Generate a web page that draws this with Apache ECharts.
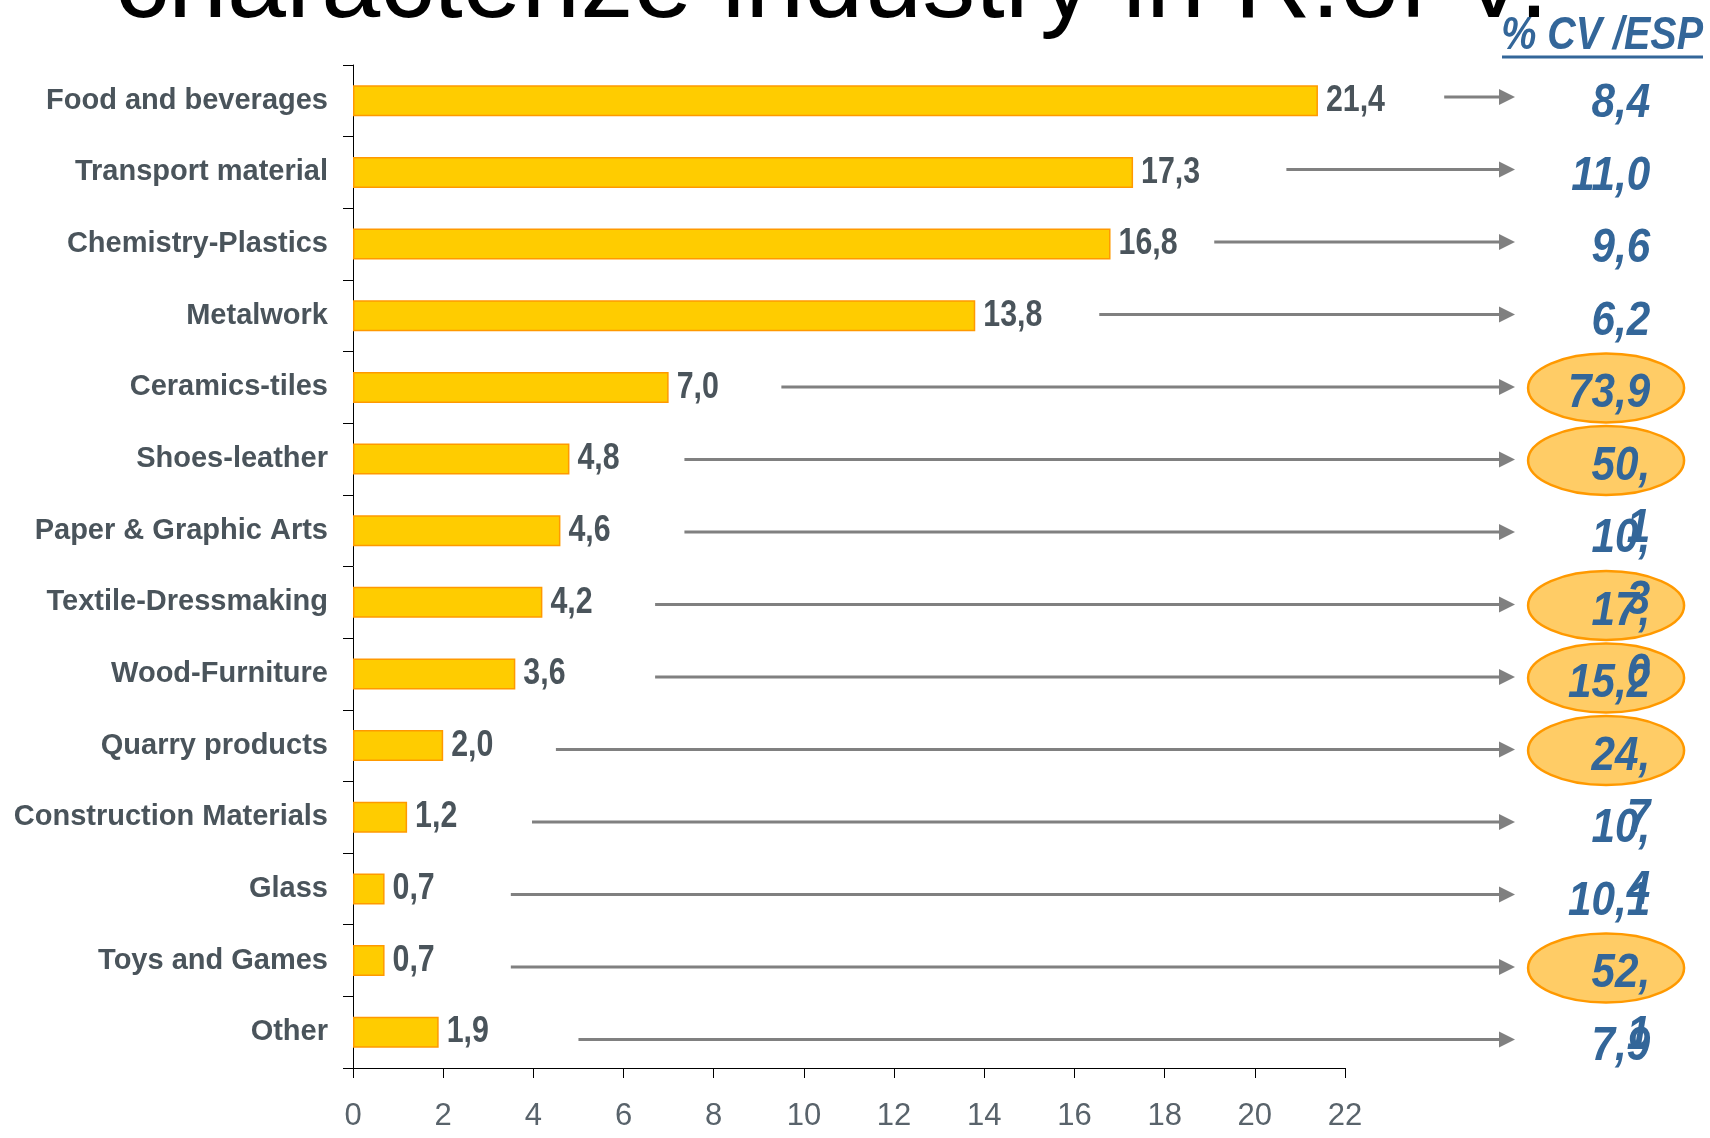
<!DOCTYPE html>
<html>
<head>
<meta charset="utf-8">
<script src="https://cdn.jsdelivr.net/npm/echarts@6/dist/echarts.min.js"></script>
<style>
html,body{margin:0;padding:0;background:#fff;}
#chart{width:1710px;height:1138px;}
</style>
</head>
<body>
<div id="chart"></div>
<script>
// ---- data ----
const categories = ['Food and beverages', 'Transport material', 'Chemistry-Plastics', 'Metalwork',
  'Ceramics-tiles', 'Shoes-leather', 'Paper & Graphic Arts', 'Textile-Dressmaking', 'Wood-Furniture',
  'Quarry products', 'Construction Materials', 'Glass', 'Toys and Games', 'Other'];
const shares = [21.4, 17.3, 16.8, 13.8, 7.0, 4.8, 4.6, 4.2, 3.6, 2.0, 1.2, 0.7, 0.7, 1.9];
const cvEsp = [8.4, 11.0, 9.6, 6.2, 73.9, 50.1, 10.3, 17.0, 15.2, 24.7, 10.4, 10.1, 52.1, 7.9];
const cvWrapped = [0, 0, 0, 0, 0, 1, 1, 1, 0, 1, 1, 0, 1, 0];
const cvHighlighted = [0, 0, 0, 0, 1, 1, 0, 1, 1, 1, 0, 0, 1, 0];
const arrowFrom = [24.2, 20.7, 19.1, 16.55, 9.5, 7.35, 7.35, 6.7, 6.7, 4.5, 3.97, 3.5, 3.5, 5.0];
const xTicks = [0, 22, 2]; // min, max, interval
const titleText = 'characterize industry in R.of V.';
const headerText = '% CV /ESP';

const SANS = '"Liberation Sans",Arial,sans-serif';
const GREY = '#4A545B';
const BLUE = '#336699';

const fmt = v => v.toFixed(1).replace('.', ',');

// layout constants for right-hand annotation column (in x-axis units)
const ARROW_TIP = 25.77;
const ELLIPSE_X = 27.79;
const TEXT_RIGHT = 28.77;

const barLabelData = shares.map((v, i) => [v, i]);
const annData = categories.map((c, i) => [i, arrowFrom[i], cvEsp[i], cvWrapped[i], cvHighlighted[i]]);

const chart = echarts.init(document.getElementById('chart'), null, {renderer: 'canvas'});
chart.setOption({
  animation: false,
  backgroundColor: '#fff',
  grid: {left: 353, top: 65, right: 365, bottom: 70, containLabel: false},
  xAxis: {
    type: 'value', min: xTicks[0], max: xTicks[1], interval: xTicks[2],
    axisLine: {show: true, onZero: false, lineStyle: {color: '#000', width: 1}},
    axisTick: {show: true, length: 10, lineStyle: {color: '#000'}},
    splitLine: {show: false},
    axisLabel: {color: '#59636B', fontSize: 31, fontFamily: SANS, margin: 33}
  },
  yAxis: [{
    type: 'category', data: categories, inverse: true,
    axisLine: {show: true, onZero: false, lineStyle: {color: '#000', width: 1}},
    axisTick: {show: true, length: 10, lineStyle: {color: '#000'}},
    axisLabel: {color: GREY, fontSize: 29, fontWeight: 'bold', fontFamily: SANS, margin: 25}
  }, {
    type: 'value', inverse: true, min: -0.441, max: 13.393, show: false,
    axisLine: {show: false, onZero: false}
  }],
  graphic: [
    {type: 'text', x: 115, y: -12, silent: true,
     style: {text: titleText, fill: '#000', fontSize: 106, fontFamily: SANS, align: 'left', verticalAlign: 'middle'}},
    {type: 'text', x: 1703, y: 36, scaleX: 0.84, silent: true,
     style: {text: headerText, x: 0, y: 0, fill: BLUE, fontSize: 47, fontWeight: 'bold', fontStyle: 'italic', fontFamily: SANS, align: 'right', verticalAlign: 'middle'}},
    {type: 'line', silent: true, shape: {x1: 1502, y1: 57, x2: 1703, y2: 57}, style: {stroke: BLUE, lineWidth: 3}}
  ],
  series: [{
    type: 'bar', data: shares, barWidth: 31,
    itemStyle: {color: '#FFCC00', borderColor: '#FF9900', borderWidth: 1.5}
  }, {
    // value labels at bar ends (condensed like the original)
    type: 'custom', xAxisIndex: 0, yAxisIndex: 0, data: barLabelData, clip: false,
    renderItem: function (params, api) {
      const p = api.coord([api.value(0), api.value(1)]);
      return {type: 'text', x: p[0] + 8, y: p[1], scaleX: 0.82,
        style: {text: fmt(api.value(0)), x: 0, y: 0, fill: GREY, fontSize: 37, fontWeight: 'bold', fontFamily: SANS,
          align: 'left', verticalAlign: 'middle'}};
    }
  }, {
    // arrows, highlight ellipses and % CV/ESP values
    type: 'custom', xAxisIndex: 0, yAxisIndex: 1, data: annData, clip: false,
    renderItem: function (params, api) {
      const i = api.value(0);
      const from = api.coord([api.value(1), i]);
      const tip = api.coord([ARROW_TIP, i]);
      const ell = api.coord([ELLIPSE_X, i]);
      const txt = api.coord([TEXT_RIGHT, i]);
      const y = from[1];
      const s = fmt(api.value(2));
      const label = api.value(3) ? s.replace(',', ',\n') : s;
      const children = [
        {type: 'line', shape: {x1: from[0], y1: y, x2: tip[0] - 14, y2: y}, style: {stroke: '#808080', lineWidth: 3}},
        {type: 'polygon', shape: {points: [[tip[0], y], [tip[0] - 16, y - 8], [tip[0] - 16, y + 8]]}, style: {fill: '#808080'}}
      ];
      if (api.value(4)) {
        children.push({type: 'ellipse', z2: 1, shape: {cx: ell[0], cy: y + 1, rx: 78, ry: 34.5},
          style: {fill: '#FFCC66', stroke: '#FF9900', lineWidth: 2.5}});
      }
      children.push({type: 'text', z2: 100, x: txt[0], y: y + 7 - 31, scaleX: 0.88,
        style: {text: label, x: 0, y: 0, fill: BLUE, fontSize: 48, fontWeight: 'bold', fontStyle: 'italic', fontFamily: SANS,
          align: 'right', verticalAlign: 'top', lineHeight: 62}});
      return {type: 'group', children: children};
    }
  }]
});
</script>
</body>
</html>
